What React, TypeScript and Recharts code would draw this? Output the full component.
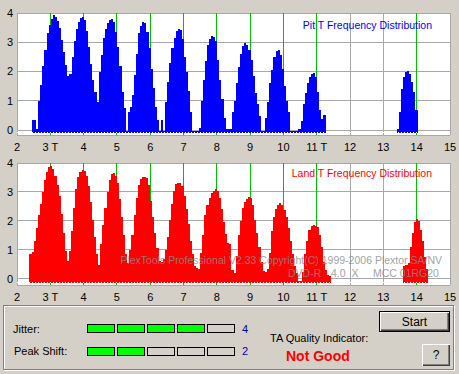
import React from 'react';
import { AreaChart, Area, XAxis, YAxis, CartesianGrid, ReferenceLine } from 'recharts';

// x axis in T units, y axis in counts (log scale as plotted by the tool)
const xTicks = [2, 3, 4, 5, 6, 7, 8, 9, 10, 11, 12, 13, 14, 15];
const yTicks = [0, 1, 2, 3, 4];
const markedT = [3, 4, 5, 6, 7, 8, 9, 10, 11, 14];
const binStep = 1 / 16;

// Pit histogram, one value per 1/16 T bin
const pitMainStart = 2.45;
const pitMain = [
  0.33, 0.33, 0.05, 1.0, 1.55, 2.2, 2.75, 3.3, 3.6, 3.8,
  3.92, 3.86, 3.72, 3.48, 3.08, 2.68, 2.22, 1.86, 1.9, 2.5,
  3.05, 3.45, 3.7, 3.83, 3.86, 3.76, 3.4, 2.85, 2.25, 1.7,
  1.3, 0.97, 2.0, 2.57, 3.14, 3.45, 3.66, 3.76, 3.79, 3.7,
  3.35, 2.85, 2.2, 1.3, 0.74, -0.05, 0.63, 0.8, 1.2, 1.88,
  2.6, 3.3, 3.55, 3.68, 3.66, 3.35, 2.8, 2.1, 1.45, 0.8,
  0.34, -0.05, 0.34, -0.05, 0.97, 1.65, 2.28, 2.8, 3.14, 3.37,
  3.45, 3.42, 3.1, 2.5, 2.0, 1.35, 0.6, -0.05, -0.05, -0.05,
  0.06, 1.0, 1.7, 2.35, 2.9, 3.12, 3.2, 3.18, 3.05, 2.4,
  1.7, 1.05, 0.4, 0.05, 0.05, 0.05, 0.63, 1.0, 1.6, 2.17,
  2.6, 2.88, 2.97, 2.92, 2.74, 2.4, 1.85, 1.28, 0.9, 0.48,
  -0.05, -0.05, 0.4, 0.97, 1.6, 2.05, 2.48, 2.7, 2.74, 2.55,
  2.1, 1.5, 1.0, 0.6, -0.05, -0.05, -0.05, -0.05, 0.05, 0.3,
  0.9, 1.25, 1.6, 1.8, 1.92, 1.95, 1.8, 1.3, 0.7, 0.38,
  0.5, -0.05,
];
const pit14Start = 13.4;
const pit14 = [0.05, 0.6, 1.4, 1.8, 2.0, 2.03, 1.9, 1.65, 1.3, 0.7, -0.05];

// Land histogram
const landMainStart = 2.375;
const landMain = [
  0.85, 0.93, 1.3, 1.75, 2.2, 2.6, 3.0, 3.4, 3.7, 3.86,
  3.9, 3.78, 3.55, 3.25, 2.85, 2.25, 1.6, 0.95, 0.62, 0.95,
  1.65, 2.45, 3.1, 3.5, 3.7, 3.77, 3.74, 3.55, 3.2, 2.65,
  2.05, 1.45, 0.85, 0.48, 1.2, 1.85, 2.45, 3.0, 3.42, 3.62,
  3.64, 3.55, 3.3, 2.75, 2.15, 1.5, 0.85, 0.54, 1.0, 1.5,
  2.2, 2.8, 3.25, 3.45, 3.52, 3.52, 3.47, 3.25, 2.7, 2.12,
  1.6, 1.05, 0.62, 0.6, 0.7, 1.0, 1.45, 2.05, 2.6, 3.05,
  3.28, 3.32, 3.3, 3.2, 2.85, 2.4, 1.9, 1.3, 0.85, 0.45,
  0.38, 0.34, 0.9, 1.5, 2.2, 2.55, 2.8, 2.95, 3.05, 3.12,
  3.05, 2.8, 2.4, 1.95, 1.55, 1.23, 1.2, 0.3, 0.2, 0.8,
  1.5, 2.0, 2.45, 2.65, 2.75, 2.82, 2.78, 2.55, 2.05, 1.6,
  1.1, 0.6, 0.28, 0.25, 0.35, 0.9, 1.65, 2.15, 2.42, 2.55,
  2.61, 2.55, 2.38, 2.15, 1.75, 1.3, 0.85, 0.45, 0.2, -0.08,
  -0.08, 0.25, 0.85, 1.3, 1.7, 1.82, 1.85, 1.83, 1.78, 1.5,
  1.1, 0.6, 0.3, 0.15, 0.1, -0.08,
];
const land14Start = 13.6;
const land14 = [0.45, 0.48, 0.55, 1.1, 1.6, 1.95, 2.06, 2.0, 1.7, 1.3, 0.75, 0.35, -0.08];

const jitterLevel = 4;
const peakShiftLevel = 2;
const meterSegments = 5;

type Row = { t: number; v: number | null };

function buildRows(segments: { start: number; values: number[] }[]): Row[] {
  const rows: Row[] = [];
  segments.forEach((seg, i) => {
    if (i > 0) rows.push({ t: (rows[rows.length - 1].t + seg.start) / 2, v: null });
    seg.values.forEach((v, k) => rows.push({ t: seg.start + k * binStep, v }));
  });
  return rows;
}

const pitRows = buildRows([
  { start: pitMainStart, values: pitMain },
  { start: pit14Start, values: pit14 },
]);
const landRows = buildRows([
  { start: landMainStart, values: landMain },
  { start: land14Start, values: land14 },
]);

const fmtT = (v: number) => (v === 3 || v === 11 ? `${v} T` : `${v}`);
const tickStyle = { fill: '#000', fontSize: 11 };
const xDomain: [number, number] = [2, 15];

// green marker lines at the nominal T lengths, placed with the x axis scale
const greenLines = ({ xAxis, offset }: any) =>
  markedT.map((t) =>
    xAxis && typeof xAxis.scale === 'function'
      ? xAxis.scale(t)
      : offset.left + ((t - xDomain[0]) / (xDomain[1] - xDomain[0])) * offset.width,
  );

function Histogram({ data, color, domainMin, base, dotY }: {
  data: Row[]; color: string; domainMin: number; base: number; dotY: number;
}) {
  return (
    <AreaChart width={459} height={155} data={data} margin={{ top: 13, right: 9, bottom: 0, left: 0 }}>
      <CartesianGrid stroke="#a8a8a8" fill="#fff" fillOpacity={1} shapeRendering="crispEdges" />
      <CartesianGrid
        stroke="#00c000"
        horizontal={false}
        verticalCoordinatesGenerator={greenLines}
        shapeRendering="crispEdges"
      />
      <XAxis
        type="number"
        dataKey="t"
        domain={xDomain}
        ticks={xTicks}
        interval={0}
        allowDataOverflow
        height={20}
        axisLine={false}
        tickLine={false}
        tickSize={0}
        tickMargin={8}
        tick={tickStyle}
        tickFormatter={fmtT}
      />
      <YAxis
        domain={[domainMin, 4]}
        ticks={yTicks}
        interval={0}
        allowDataOverflow
        width={17}
        axisLine={false}
        tickLine={false}
        tickSize={0}
        tickMargin={4}
        tick={tickStyle}
      />
      <Area
        type="stepAfter"
        dataKey="v"
        stroke="none"
        fill={color}
        fillOpacity={1}
        baseValue={base}
        connectNulls={false}
        dot={false}
        activeDot={false}
        shapeRendering="crispEdges"
        isAnimationActive={false}
      />
      <ReferenceLine y={dotY} stroke="#fff" strokeDasharray="1 2" shapeRendering="crispEdges" />
    </AreaChart>
  );
}

const abs = (left: number, top: number, extra: React.CSSProperties = {}): React.CSSProperties => ({
  position: 'absolute', left, top, whiteSpace: 'nowrap', ...extra,
});

function Meter({ top, level }: { top: number; level: number }) {
  return (
    <>
      {Array.from({ length: meterSegments }, (_, i) => (
        <div
          key={i}
          style={abs(87 + i * 30, top, {
            width: 28, height: 9, boxSizing: 'border-box', border: '1px solid #000',
            background: i < level ? '#00ff00' : '#d4d0c8',
          })}
        />
      ))}
    </>
  );
}

const btn: React.CSSProperties = {
  boxSizing: 'border-box', background: '#d4d0c8', display: 'flex', alignItems: 'center',
  justifyContent: 'center', fontSize: 12, color: '#000',
};

export default function App() {
  const mark = { color: '#8c8c8c', opacity: 0.8, fontSize: 10.5, lineHeight: '12px' };
  return (
    <div style={{
      position: 'absolute', left: 0, top: 0, width: 459, height: 374, background: '#d4d0c8',
      overflow: 'hidden', fontFamily: '"Liberation Sans", Arial, sans-serif',
    }}>
      <div style={abs(0, 0)}>
        <Histogram data={pitRows} color="#0000ff" domainMin={-0.17} base={-0.11} dotY={-0.09} />
      </div>
      <div style={abs(0, 150)}>
        <Histogram data={landRows} color="#ff0000" domainMin={-0.21} base={-0.15} dotY={-0.13} />
      </div>

      <div style={{ position: 'absolute', right: 27, top: 19, color: '#0000ff', fontSize: 10.5, lineHeight: '12px', whiteSpace: 'nowrap' }}>
        Pit T Frequency Distribution
      </div>
      <div style={{ position: 'absolute', right: 27, top: 167, color: '#ff0000', fontSize: 10.5, lineHeight: '12px', whiteSpace: 'nowrap' }}>
        Land T Frequency Distribution
      </div>

      <div style={{ position: 'absolute', right: 17, top: 254, whiteSpace: 'nowrap', ...mark }}>
        PlexTools Professional V2.33 Copyright(C) 1999-2006 Plextor SA/NV
      </div>
      <div style={abs(288, 267, mark)}>DVD-R</div>
      <div style={abs(331, 267, { ...mark, wordSpacing: 3 })}>4.0 X</div>
      <div style={abs(373, 267, mark)}>MCC 01RG20</div>

      <div style={abs(3, 305, {
        width: 451, height: 65, boxSizing: 'border-box', border: '1px solid #808080',
        boxShadow: 'inset 1px 1px 0 #fff, 1px 1px 0 #fff',
      })} />

      <div style={abs(13, 322, { fontSize: 11, lineHeight: '14px' })}>Jitter:</div>
      <div style={abs(14, 344, { fontSize: 11, lineHeight: '14px' })}>Peak Shift:</div>
      <Meter top={324} level={jitterLevel} />
      <Meter top={347} level={peakShiftLevel} />
      <div style={abs(242, 322, { fontSize: 11, lineHeight: '14px', color: '#0000a0' })}>{jitterLevel}</div>
      <div style={abs(242, 344, { fontSize: 11, lineHeight: '14px', color: '#0000a0' })}>{peakShiftLevel}</div>

      <div style={abs(270, 331, { fontSize: 11, lineHeight: '14px' })}>TA Quality Indicator:</div>
      <div style={abs(286, 347, { fontSize: 14, fontWeight: 'bold', lineHeight: '18px', color: '#ff0000' })}>Not Good</div>

      <div style={abs(379, 311, {
        ...btn, width: 71, height: 21, border: '1px solid #000',
        boxShadow: 'inset 1px 1px 0 #fff, inset -1px -1px 0 #404040, inset -2px -2px 0 #808080',
      })}>Start</div>
      <div style={abs(422, 344, {
        ...btn, width: 28, height: 22,
        boxShadow: 'inset 1px 1px 0 #fff, inset -1px -1px 0 #404040, inset -2px -2px 0 #808080',
      })}>?</div>
    </div>
  );
}
